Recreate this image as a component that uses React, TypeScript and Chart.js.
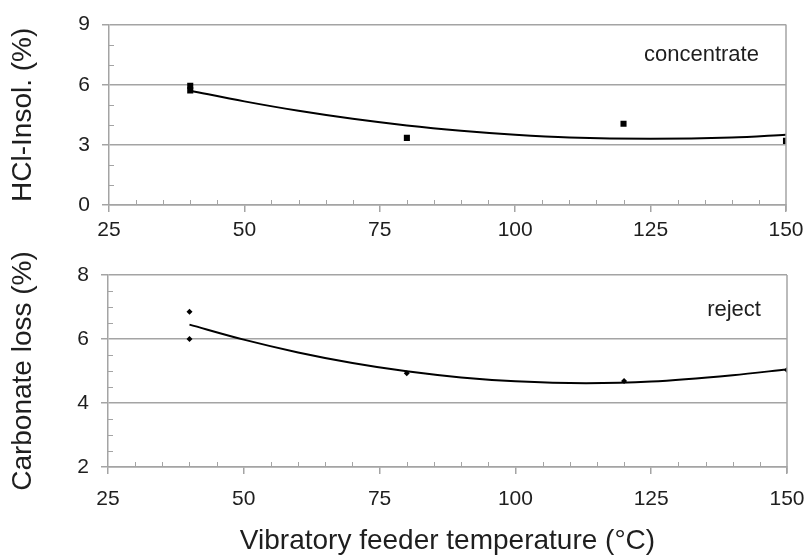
import React, { useEffect, useRef } from "react";
import { Chart, registerables } from "chart.js";
Chart.register(...registerables);

// ---- data ----
const xTickValues = [25, 50, 75, 100, 125, 150];
const concX = [40, 40, 80, 120, 150];
const concY = [5.95, 5.72, 3.35, 4.05, 3.2];
const concFitX = [40, 50, 60, 70, 80, 90, 100, 110, 125, 140, 150];
const concFitY = [5.7, 5.17, 4.7, 4.3, 3.97, 3.71, 3.51, 3.37, 3.3, 3.37, 3.51];
const rejX = [40, 40, 80, 120, 150];
const rejY = [6.85, 6.0, 4.93, 4.69, 5.03];
const rejFitX = [40, 50, 60, 70, 80, 90, 100, 113, 125, 140, 150];
const rejFitY = [6.45, 5.98, 5.58, 5.25, 4.99, 4.8, 4.68, 4.62, 4.67, 4.87, 5.05];
const topYTicks = [0, 3, 6, 9];
const botYTicks = [2, 4, 6, 8];

const FONT = "'Liberation Sans', Arial, sans-serif";
const GRID = "#a4a4a4";
const TEXT = "#1e1e1e";

const framePlugin = {
  id: "frame",
  afterDatasetsDraw(chart: any, _args: any, opts: any) {
    const { ctx, chartArea: a, scales } = chart;
    const x = scales.x;
    const y = scales.y;
    ctx.save();
    ctx.strokeStyle = GRID;
    ctx.lineWidth = 1.5;
    ctx.beginPath();
    // right border
    const rx = Math.round(a.right);
    ctx.moveTo(rx, a.top);
    ctx.lineTo(rx, a.bottom + 6);
    ctx.stroke();
    ctx.lineWidth = 1;
    ctx.beginPath();
    // minor x ticks (inside)
    for (let v = opts.xMin; v <= opts.xMax + 1e-9; v += opts.xMinor) {
      if (Math.abs(v % opts.xMajor) < 1e-9) continue;
      const px = Math.round(x.getPixelForValue(v)) + 0.5;
      ctx.moveTo(px, a.bottom);
      ctx.lineTo(px, a.bottom - 5);
    }
    // minor y ticks (inside)
    for (let v = opts.yMin; v <= opts.yMax + 1e-9; v += opts.yMinor) {
      const r = (v - opts.yMin) / opts.yMajor;
      if (Math.abs(r - Math.round(r)) < 1e-9) continue;
      const py = Math.round(y.getPixelForValue(v)) + 0.5;
      ctx.moveTo(a.left, py);
      ctx.lineTo(a.left + 5, py);
    }
    ctx.stroke();
    // annotation label
    if (opts.label) {
      ctx.fillStyle = TEXT;
      ctx.font = `22px ${FONT}`;
      ctx.textAlign = "right";
      ctx.textBaseline = "middle";
      ctx.fillText(opts.label.text, x.getPixelForValue(opts.label.x), y.getPixelForValue(opts.label.y));
    }
    ctx.restore();
  },
};

type PanelProps = {
  height: number;
  ptsX: number[];
  ptsY: number[];
  fitX: number[];
  fitY: number[];
  yMin: number;
  yMax: number;
  yStep: number;
  yMinor: number;
  yTitle: string;
  xTitle?: string;
  padTop: number;
  xHeight: number;
  yWidth: number;
  padRight: number;
  tickPadX: number;
  pointStyle: string;
  pointRadius: number;
  label: { text: string; x: number; y: number };
};

function Panel(p: PanelProps) {
  const ref = useRef<HTMLCanvasElement>(null);
  useEffect(() => {
    const chart = new Chart(ref.current as HTMLCanvasElement, {
      type: "scatter",
      data: {
        datasets: [
          {
            data: p.ptsX.map((v, i) => ({ x: v, y: p.ptsY[i] })),
            backgroundColor: "#000",
            borderColor: "#000",
            pointStyle: p.pointStyle as any,
            pointRadius: p.pointRadius,
            borderWidth: 0,
            showLine: false,
          },
          {
            data: p.fitX.map((v, i) => ({ x: v, y: p.fitY[i] })),
            showLine: true,
            pointRadius: 0,
            borderColor: "#000",
            borderWidth: 2,
            cubicInterpolationMode: "monotone",
          } as any,
        ],
      },
      options: {
        animation: false,
        responsive: false,
        events: [],
        layout: { padding: { top: p.padTop, right: p.padRight, left: 0, bottom: 0 } },
        plugins: {
          legend: { display: false },
          tooltip: { enabled: false },
          frame: {
            xMin: 25,
            xMax: 150,
            xMinor: 5,
            xMajor: 25,
            yMin: p.yMin,
            yMax: p.yMax,
            yMinor: p.yMinor,
            yMajor: p.yStep,
            label: p.label,
          },
        } as any,
        scales: {
          x: {
            type: "linear",
            min: 25,
            max: 150,
            afterBuildTicks: (s: any) => {
              s.ticks = xTickValues.map((v) => ({ value: v }));
            },
            afterFit: (s: any) => {
              s.height = p.xHeight;
              s.paddingLeft = 0;
              s.paddingRight = 0;
            },
            ticks: {
              color: TEXT,
              font: { family: FONT, size: 21 },
              padding: p.tickPadX,
              maxRotation: 0,
              autoSkip: false,
            },
            grid: { display: true, drawOnChartArea: false, drawTicks: true, tickLength: 7, color: GRID, lineWidth: 1.5 },
            border: { display: true, color: GRID, width: 1.5 },
            title: p.xTitle
              ? {
                  display: true,
                  text: p.xTitle,
                  color: TEXT,
                  font: { family: FONT, size: 28, lineHeight: 1.0 },
                  padding: { top: 0, bottom: 0 },
                }
              : { display: false },
          },
          y: {
            type: "linear",
            min: p.yMin,
            max: p.yMax,
            afterBuildTicks: (s: any) => {
              const vals = p.yMin === 0 ? topYTicks : botYTicks;
              s.ticks = vals.map((v) => ({ value: v }));
            },
            afterFit: (s: any) => {
              s.width = p.yWidth;
            },
            ticks: {
              color: TEXT,
              font: { family: FONT, size: 21 },
              padding: 12,
            },
            grid: { display: true, drawOnChartArea: true, drawTicks: true, tickLength: 7, color: GRID, lineWidth: 1.5 },
            border: { display: true, color: GRID, width: 1.5 },
            title: {
              display: true,
              text: p.yTitle,
              color: TEXT,
              font: { family: FONT, size: 28, lineHeight: 1.2 },
              padding: { top: 6, bottom: 0 },
            },
          },
        },
      },
      plugins: [framePlugin as any],
    });
    return () => chart.destroy();
  }, []);
  return <canvas ref={ref} width={806} height={p.height} style={{ display: "block" }} />;
}

export default function App() {
  return (
    <div style={{ position: "absolute", left: 0, top: 0, width: 806, height: 555, background: "#fff" }}>
      <Panel
        height={250}
        ptsX={concX}
        ptsY={concY}
        fitX={concFitX}
        fitY={concFitY}
        yMin={0}
        yMax={9}
        yStep={3}
        yMinor={1}
        yTitle="HCl-Insol. (%)"
        padTop={16}
        xHeight={45}
        yWidth={109}
        padRight={20}
        tickPadX={6}
        pointStyle="rect"
        pointRadius={4.3}
        label={{ text: "concentrate", x: 145, y: 7.48 }}
      />
      <Panel
        height={305}
        ptsX={rejX}
        ptsY={rejY}
        fitX={rejFitX}
        fitY={rejFitY}
        yMin={2}
        yMax={8}
        yStep={2}
        yMinor={0.5}
        yTitle="Carbonate loss (%)"
        xTitle="Vibratory feeder temperature (°C)"
        padTop={25}
        xHeight={88}
        yWidth={108}
        padRight={19}
        tickPadX={13}
        pointStyle="rectRot"
        pointRadius={3}
        label={{ text: "reject", x: 145.2, y: 6.9 }}
      />
    </div>
  );
}
